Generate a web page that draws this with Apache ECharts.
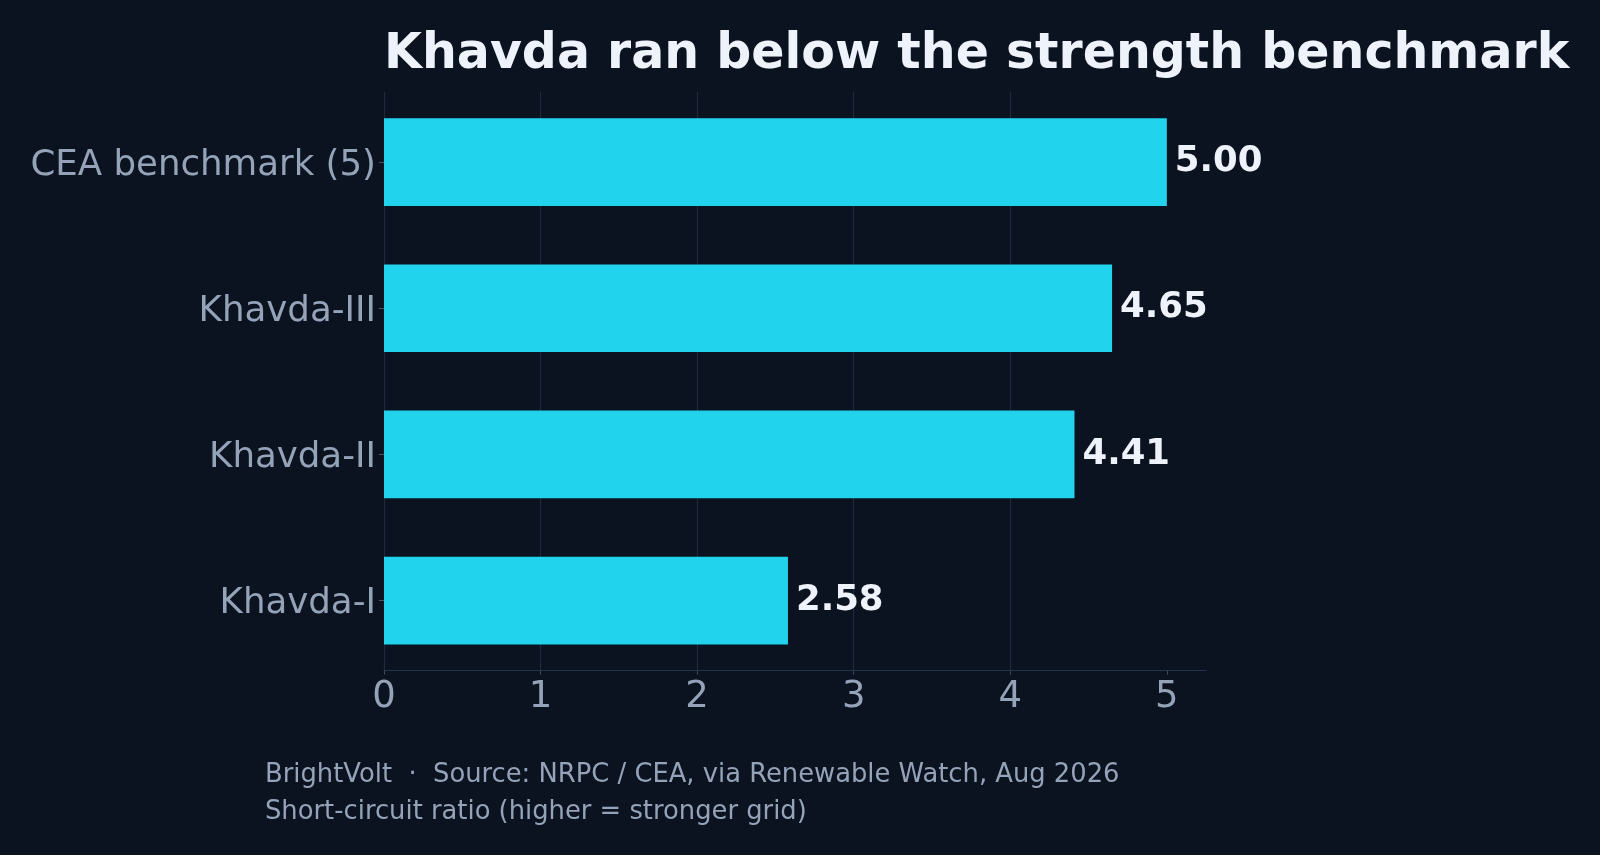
<!DOCTYPE html>
<html>
<head>
<meta charset="utf-8">
<script src="https://cdn.jsdelivr.net/npm/echarts@6/dist/echarts.min.js"></script>
<style>
html,body{margin:0;padding:0;background:#0b1220;}
#chart{width:1600px;height:855px;}
</style>
</head>
<body>
<div id="chart"></div>
<script>
const categories = ['Khavda-I', 'Khavda-II', 'Khavda-III', 'CEA benchmark (5)'];
const values = [2.58, 4.41, 4.65, 5.00];
const xTicks = [0, 1, 2, 3, 4, 5];
const titleText = 'Khavda ran below the strength benchmark';
const footerLines = [
  'BrightVolt  \u00b7  Source: NRPC / CEA, via Renewable Watch, Aug 2026',
  'Short-circuit ratio (higher = stronger grid)'
];

const FONT = 'DejaVu Sans';
const chart = echarts.init(document.getElementById('chart'), null, {renderer: 'canvas'});
chart.setOption({
  backgroundColor: '#0b1220',
  animation: false,
  title: {
    text: titleText,
    left: 384,
    top: 31,
    padding: 0,
    textStyle: {color: '#eef2fb', fontFamily: FONT, fontWeight: 'bold', fontSize: 49}
  },
  grid: [
    {left: 384, right: 394, top: 89, bottom: 181.4, containLabel: false},
    {left: 384, right: 394, top: 92, bottom: 184.3, containLabel: false}
  ],
  xAxis: [
    {gridIndex: 0, type: 'value', min: 0, max: 5.25, interval: 1, show: false},
    {
      gridIndex: 1, type: 'value', min: 0, max: 5.25, interval: 1,
      axisLine: {show: true, lineStyle: {color: '#253349', width: 1.2}},
      axisTick: {show: true, length: 4, customValues: xTicks, lineStyle: {color: '#3b4a63'}},
      splitLine: {show: true, showMaxLine: false, lineStyle: {color: '#1e2a3e', width: 1.2}},
      axisLabel: {
        color: '#94a3b8', fontFamily: FONT, fontSize: 37, margin: 8,
        customValues: xTicks,
        formatter: v => String(v)
      }
    }
  ],
  yAxis: [
    {
      gridIndex: 0, type: 'category', data: categories,
      axisLine: {show: false},
      axisTick: {show: true, alignWithLabel: true, length: 5, lineStyle: {color: '#475569'}},
      splitLine: {show: false},
      axisLabel: {
        margin: 8,
        formatter: v => '{a|' + v + '}',
        rich: {a: {color: '#94a3b8', fontFamily: FONT, fontSize: 35.6, padding: [7, 0, 0, 0]}}
      }
    },
    {gridIndex: 1, type: 'value', min: 0, max: 1, show: false}
  ],
  series: [{
    type: 'bar',
    xAxisIndex: 0,
    yAxisIndex: 0,
    data: values,
    barWidth: 87.7,
    itemStyle: {color: '#22d3ee'},
    label: {
      show: true, position: 'right', distance: 8,
      color: '#eef2fb', fontFamily: FONT, fontWeight: 'bold', fontSize: 35.5,
      formatter: p => p.value.toFixed(2)
    }
  }],
  graphic: footerLines.map((t, i) => ({
    type: 'text',
    left: 265,
    top: [762, 799][i],
    style: {text: t, fill: '#94a3b8', font: '25.8px "DejaVu Sans"'}
  }))
});
</script>
</body>
</html>
